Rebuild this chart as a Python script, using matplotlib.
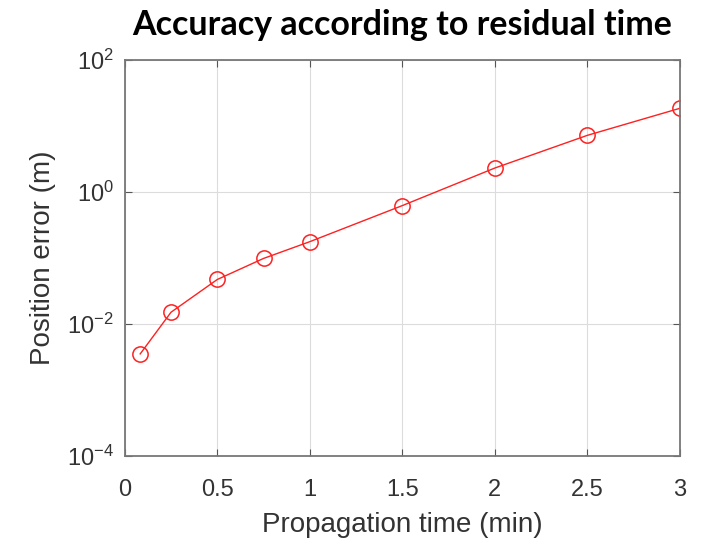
import numpy as np
import matplotlib.pyplot as plt

plt.rcParams['mathtext.fontset'] = 'custom'
plt.rcParams['mathtext.rm'] = 'Liberation Sans'
plt.rcParams['mathtext.it'] = 'Liberation Sans'

# Tiempo de propagación (min) y error de posición (m)
prop_time = [1 / 12, 0.25, 0.5, 0.75, 1.0, 1.5, 2.0, 2.5, 3.0]
pos_error = [0.0035, 0.015, 0.047, 0.098, 0.176, 0.62, 2.3, 7.2, 18.5]

x_ticks = [0, 0.5, 1, 1.5, 2, 2.5, 3]
x_tick_labels = ['0', '0.5', '1', '1.5', '2', '2.5', '3']
y_ticks = [1e-4, 1e-2, 1e0, 1e2]
y_tick_labels = [r'$\mathregular{10^{-4}}$', r'$\mathregular{10^{-2}}$',
                 r'$\mathregular{10^{0}}$', r'$\mathregular{10^{2}}$']

fig = plt.figure(figsize=(7.09, 5.40), dpi=100)
ax = fig.add_axes([0.176, 0.156, 0.783, 0.733])

ax.semilogy(prop_time, pos_error, color='#ff2020', linewidth=1.0,
            marker='o', markersize=11, markerfacecolor='none',
            markeredgecolor='#ff2020', markeredgewidth=1.1)

ax.set_xlim(0, 3)
ax.set_ylim(1e-4, 1e2)
ax.set_xticks(x_ticks)
ax.set_xticklabels(x_tick_labels)
ax.set_yticks(y_ticks)
ax.set_yticklabels(y_tick_labels)
ax.minorticks_off()

ax.grid(True, color='#dcdcdc', linewidth=0.8)
ax.set_axisbelow(True)

for s in ax.spines.values():
    s.set_color('#777777')
    s.set_linewidth(1.3)
ax.tick_params(direction='in', length=5, color='#555555', labelcolor='#333333',
               labelsize=17, top=True, right=True)
ax.tick_params(axis='x', pad=17)
ax.tick_params(axis='y', pad=8)
for lbl in ax.get_xticklabels() + ax.get_yticklabels():
    lbl.set_family('Liberation Sans')

ax.set_xlabel('Propagation time (min)', fontsize=20, color='#333333',
              family='Liberation Sans', labelpad=8)
ax.set_ylabel('Position error (m)', fontsize=20, color='#333333',
              family='Liberation Sans', labelpad=8)
ax.set_title('Accuracy according to residual time', fontsize=24.5,
             fontweight='bold', family='Lato', pad=18)

fig.savefig('out.png', dpi=100)
